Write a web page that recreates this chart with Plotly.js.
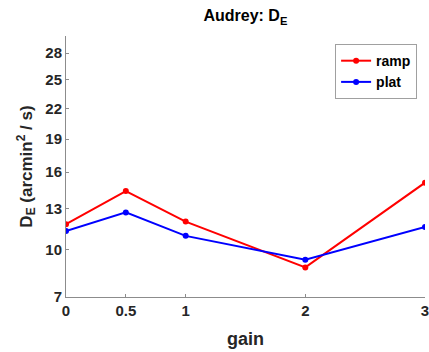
<!DOCTYPE html>
<html>
<head>
<meta charset="utf-8">
<script src="https://cdn.plot.ly/plotly-3.0.1.min.js"></script>
<style>
  html, body { margin: 0; padding: 0; background: #fff; }
  #chart { width: 429px; height: 352px; }
</style>
</head>
<body>
<div id="chart"></div>
<script>
// Diffusion constant per gain condition
const gain = [0, 0.5, 1, 2, 3];
const ramp = [11.8, 14.4, 12.0, 8.8, 15.1];
const plat = [11.3, 12.7, 10.95, 9.3, 11.6];
const yTicks = [7, 10, 13, 16, 19, 22, 25, 28];
const xTicks = [0, 0.5, 1, 2, 3];

// The y axis is drawn on a square-root scale
const sq = v => Math.sqrt(v);

const FONT = 'Liberation Sans, Arial, Helvetica, sans-serif';
const AXIS_GRAY = '#8c8c8c';

const traces = [
  {
    x: gain, y: ramp.map(sq), name: 'ramp', type: 'scatter', mode: 'lines+markers',
    line: { color: '#ff0000', width: 2 }, marker: { color: '#ff0000', size: 6 },
    customdata: ramp, hovertemplate: '%{customdata}<extra>ramp</extra>'
  },
  {
    x: gain, y: plat.map(sq), name: 'plat', type: 'scatter', mode: 'lines+markers',
    line: { color: '#0000ff', width: 2 }, marker: { color: '#0000ff', size: 6 },
    customdata: plat, hovertemplate: '%{customdata}<extra>plat</extra>'
  }
];

const layout = {
  width: 429, height: 352,
  margin: { l: 66, r: 4, t: 36, b: 55 },
  paper_bgcolor: '#fff', plot_bgcolor: '#fff',
  font: { family: FONT, color: '#262626', size: 14 },
  title: {
    text: '<b>Audrey: D<sub>E</sub></b>',
    font: { family: FONT, size: 16, color: '#000' },
    x: 0.572, xanchor: 'center', y: 0.955, yanchor: 'middle'
  },
  xaxis: {
    range: [0, 3],
    tickvals: xTicks, ticktext: xTicks.map(String),
    ticks: 'inside', ticklen: 3, tickcolor: AXIS_GRAY,
    showline: true, linecolor: AXIS_GRAY, linewidth: 1,
    showgrid: false, zeroline: false,
    ticklabeloverflow: 'allow',
    tickfont: { family: FONT, size: 15, color: '#262626', weight: 'bold' },
    title: { text: '<b>gain</b>', font: { family: FONT, size: 18, color: '#262626' }, standoff: 14 }
  },
  yaxis: {
    range: [sq(7), sq(30)],
    tickvals: yTicks.map(sq), ticktext: yTicks.map(String),
    ticks: 'inside', ticklen: 3, tickcolor: AXIS_GRAY,
    showline: true, linecolor: AXIS_GRAY, linewidth: 1,
    showgrid: false, zeroline: false,
    ticklabeloverflow: 'allow',
    tickfont: { family: FONT, size: 15, color: '#262626', weight: 'bold' },
    title: { text: '<b>D<sub>E</sub> (arcmin<sup>2</sup> / s)</b>', font: { family: FONT, size: 17, color: '#262626' }, standoff: 8 }
  },
  showlegend: true,
  legend: {
    x: 0.978, xanchor: 'right', y: 0.969, yanchor: 'top',
    bgcolor: '#fff', bordercolor: '#a0a0a0', borderwidth: 1,
    font: { family: FONT, size: 14, color: '#000', weight: 'bold' },
    tracegroupgap: 0, itemwidth: 30
  }
};

Plotly.newPlot('chart', traces, layout, { displayModeBar: false, staticPlot: true });
</script>
</body>
</html>
